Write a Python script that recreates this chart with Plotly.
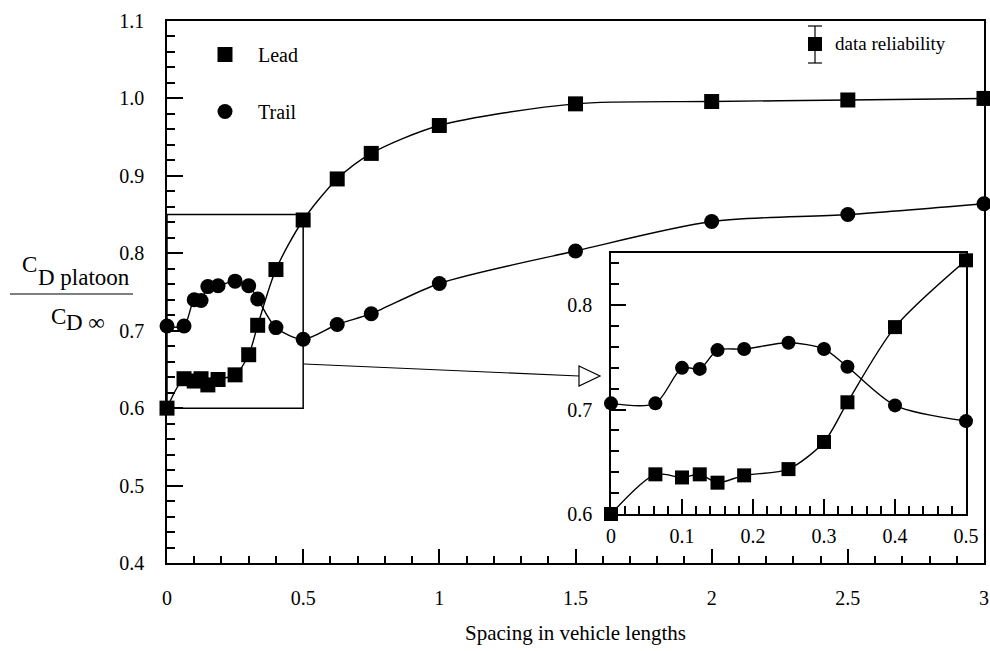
import plotly.graph_objects as go

# ---------------- data ----------------
spacing = [0, 0.0625, 0.1, 0.125, 0.15, 0.1875, 0.25, 0.3, 0.333, 0.4, 0.5,
           0.625, 0.75, 1.0, 1.5, 2.0, 2.5, 3.0]
lead = [0.600, 0.638, 0.635, 0.638, 0.630, 0.637, 0.643, 0.669, 0.707, 0.779, 0.843,
        0.896, 0.929, 0.965, 0.993, 0.996, 0.998, 1.0]
trail = [0.706, 0.706, 0.740, 0.739, 0.757, 0.758, 0.764, 0.758, 0.741, 0.704, 0.689,
         0.708, 0.722, 0.761, 0.803, 0.841, 0.850, 0.864]
inset_limit = 0.5

x_range_main = [0, 3]
y_range_main = [0.4, 1.1]
x_range_inset = [0, 0.5]
y_range_inset = [0.6, 0.85]
zoom_box = dict(x0=0, x1=0.5, y0=0.6, y1=0.85)

# ---------------- geometry helpers ----------------
FW, FH = 990, 651
L, R, T, B = 167, 984, 21, 563
PW, PH = R - L, B - T


def px(x):
    return (x - L) / PW


def py(y):
    return (B - y) / PH


FONT = "Liberation Serif, Times New Roman, serif"
LW = 1.4

fig = go.Figure()

ins_idx = [i for i, s in enumerate(spacing) if s <= inset_limit]

for name, vals, sym in [("Lead", lead, "square"), ("Trail", trail, "circle")]:
    fig.add_trace(go.Scatter(
        x=spacing, y=vals, mode="lines",
        line=dict(color="black", width=LW, shape="spline", smoothing=0.8),
        showlegend=False, hoverinfo="skip", cliponaxis=False))
    fig.add_trace(go.Scatter(
        x=spacing, y=vals, mode="markers", name=name,
        marker=dict(symbol=sym, size=15, color="black"),
        cliponaxis=False, legendgroup=name))
    fig.add_trace(go.Scatter(
        x=[spacing[i] for i in ins_idx], y=[vals[i] for i in ins_idx],
        mode="lines+markers", xaxis="x2", yaxis="y2",
        line=dict(color="black", width=LW, shape="spline", smoothing=0.8),
        marker=dict(symbol=sym, size=14, color="black"),
        showlegend=False, cliponaxis=False))

axis_common = dict(showline=True, linecolor="black", linewidth=1.5, mirror=True,
                   ticks="inside", tickcolor="black", tickwidth=1.5,
                   showgrid=False, zeroline=False, automargin=False,
                   tickfont=dict(family=FONT, size=20, color="black"))

fig.update_layout(
    width=FW, height=FH,
    margin=dict(l=L, r=FW - R, t=T, b=FH - B, autoexpand=False),
    paper_bgcolor="white", plot_bgcolor="white",
    font=dict(family=FONT, color="black"),
    xaxis=dict(range=x_range_main, dtick=0.5, tick0=0, ticklen=14,
               ticklabelstandoff=16,
               minor=dict(ticks="inside", dtick=0.1, ticklen=7, tickwidth=1.5, tickcolor="black"),
               **axis_common),
    yaxis=dict(range=y_range_main, dtick=0.1, tick0=0, tickformat=".1f", ticklen=16,
               ticklabelstandoff=17,
               minor=dict(ticks="inside", dtick=0.02, ticklen=8, tickwidth=1.5, tickcolor="black"),
               **axis_common),
    xaxis2=dict(domain=[px(611), px(966)], anchor="y2", range=x_range_inset,
                dtick=0.1, tick0=0, ticklen=15, ticklabelstandoff=3,
                minor=dict(ticks="inside", dtick=0.02, ticklen=8, tickwidth=1.5, tickcolor="black"),
                **axis_common),
    yaxis2=dict(domain=[py(514), py(253)], anchor="x2", range=y_range_inset,
                dtick=0.1, tick0=0, tickformat=".1f", ticklen=15, ticklabelstandoff=13,
                minor=dict(ticks="inside", dtick=0.02, ticklen=8, tickwidth=1.5, tickcolor="black"),
                **axis_common),
    legend=dict(x=px(192), y=py(35), xanchor="left", yanchor="top",
                bgcolor="rgba(0,0,0,0)", borderwidth=0,
                font=dict(family=FONT, size=20, color="black"),
                itemwidth=56, tracegroupgap=28, traceorder="grouped"),
    showlegend=True,
)

shapes = []
# zoom rectangle in main data coordinates
shapes.append(dict(type="rect", xref="x", yref="y", line=dict(color="black", width=1.5),
                   fillcolor="rgba(0,0,0,0)", **zoom_box))
# arrow from zoom box to inset
shapes.append(dict(type="line", xref="paper", yref="paper",
                   x0=px(304), y0=py(364), x1=px(579), y1=py(376),
                   line=dict(color="black", width=1.2)))
shapes.append(dict(type="path", xref="paper", yref="paper",
                   path=f"M{px(579)},{py(366)} L{px(600)},{py(376)} L{px(579)},{py(386)} Z",
                   fillcolor="white", line=dict(color="black", width=1.2)))
# data reliability symbol
shapes.append(dict(type="line", xref="paper", yref="paper",
                   x0=px(815), y0=py(26), x1=px(815), y1=py(63),
                   line=dict(color="black", width=1.2)))
for yy in (26, 63):
    shapes.append(dict(type="line", xref="paper", yref="paper",
                       x0=px(808), y0=py(yy), x1=px(822), y1=py(yy),
                       line=dict(color="black", width=1.2)))
shapes.append(dict(type="rect", xref="paper", yref="paper",
                   x0=px(808), y0=py(51), x1=px(822), y1=py(37),
                   fillcolor="black", line=dict(color="black", width=0)))
# fraction bar of y title
shapes.append(dict(type="line", xref="paper", yref="paper",
                   x0=px(10), y0=py(294), x1=px(133), y1=py(294),
                   line=dict(color="black", width=1.2)))
fig.update_layout(shapes=shapes)

ann = []


def text(x, y, s, size, xanchor="center"):
    ann.append(dict(x=px(x), y=py(y), xref="paper", yref="paper", text=s,
                    showarrow=False, xanchor=xanchor, yanchor="middle",
                    font=dict(family=FONT, size=size, color="black")))


text(833, 44, "data reliability", 19, "left")
text(29, 264, "C", 23)
text(36, 277, "D platoon", 23, "left")
text(58, 316, "C", 23)
text(64, 322, "D ∞", 23, "left")
text(575, 633, "Spacing in vehicle lengths", 21)
fig.update_layout(annotations=ann)

fig.write_html("out.html")
